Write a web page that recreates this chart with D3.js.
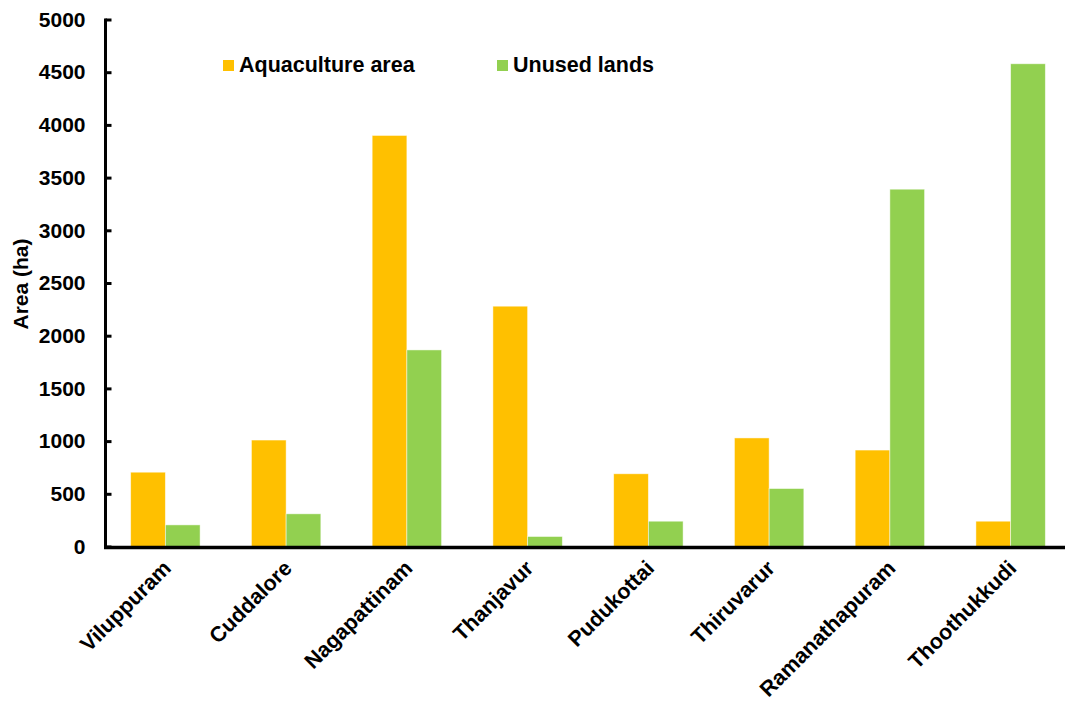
<!DOCTYPE html>
<html>
<head>
<meta charset="utf-8">
<script src="https://cdn.jsdelivr.net/npm/d3@7"></script>
<style>
  html, body { margin: 0; padding: 0; background: #fff; }
  svg { display: block; font-family: "Liberation Sans", Arial, sans-serif; }
</style>
</head>
<body>
<svg id="chart" width="1065" height="703"></svg>
<script>
// District-wise area (ha)
const districts = ["Viluppuram", "Cuddalore", "Nagapattinam", "Thanjavur",
                   "Pudukottai", "Thiruvarur", "Ramanathapuram", "Thoothukkudi"];
const aquacultureArea = [705, 1010, 3900, 2280, 690, 1030, 915, 240];
const unusedLands = [205, 310, 1865, 95, 240, 550, 3390, 4580];
const seriesNames = ["Aquaculture area", "Unused lands"];
const seriesColors = ["#FFC000", "#92D050"];
const yTicks = [0, 500, 1000, 1500, 2000, 2500, 3000, 3500, 4000, 4500, 5000];

const svg = d3.select("#chart");

const x0 = d3.scaleBand()
  .domain(districts)
  .range([105, 1071])
  .paddingInner(0.425)
  .paddingOuter(0.2125);

const x1 = d3.scaleBand()
  .domain(seriesNames)
  .range([0, x0.bandwidth()]);

const y = d3.scaleLinear()
  .domain([0, 5000])
  .range([546.5, 19.5]);

const color = d3.scaleOrdinal().domain(seriesNames).range(seriesColors);

const rows = districts.map((d, i) => ({
  district: d,
  values: [
    { key: seriesNames[0], value: aquacultureArea[i] },
    { key: seriesNames[1], value: unusedLands[i] }
  ]
}));

// Bars
svg.append("g")
  .selectAll("g")
  .data(rows)
  .join("g")
  .attr("transform", d => `translate(${x0(d.district)},0)`)
  .selectAll("rect")
  .data(d => d.values)
  .join("rect")
  .attr("x", d => x1(d.key))
  .attr("y", d => y(d.value))
  .attr("width", x1.bandwidth())
  .attr("height", d => y(0) - y(d.value))
  .attr("fill", d => color(d.key))
  .attr("stroke", "rgba(255,255,255,0.6)")
  .attr("stroke-width", 0.8);

// Y axis
const yAxis = svg.append("g")
  .attr("transform", "translate(105.5,0)")
  .call(d3.axisLeft(y).tickValues(yTicks).tickFormat(d3.format("d"))
    .tickSize(-6).tickPadding(20).tickSizeOuter(0));
yAxis.select(".domain").attr("stroke", "#000").attr("stroke-width", 3)
  .attr("d", `M0,${y(5000) - 1}V${y(0) + 2}`);
yAxis.selectAll(".tick line").attr("stroke", "#000").attr("stroke-width", 3);
yAxis.selectAll(".tick text")
  .attr("fill", "#000")
  .attr("font-size", 21)
  .attr("font-weight", "bold")
  .attr("font-family", "Liberation Sans, Arial, sans-serif");

// X axis
const xAxis = svg.append("g")
  .attr("transform", `translate(0,${y(0) + 1})`)
  .call(d3.axisBottom(x0).tickSize(0).tickPadding(0));
xAxis.select(".domain").attr("stroke", "#000").attr("stroke-width", 3.5)
  .attr("d", "M104,0H1065");
xAxis.selectAll(".tick text")
  .attr("fill", "#000")
  .attr("font-size", 21.5)
  .attr("font-weight", "bold")
  .attr("font-family", "Liberation Sans, Arial, sans-serif")
  .attr("text-anchor", "end")
  .attr("dy", null)
  .attr("y", 0)
  .attr("transform", "translate(7,22) rotate(-45)");

// Y axis title
svg.append("text")
  .attr("transform", "translate(27.5,284) rotate(-90)")
  .attr("text-anchor", "middle")
  .attr("font-size", 21)
  .attr("font-weight", "bold")
  .attr("fill", "#000")
  .text("Area (ha)");

// Legend
const legendX = [223, 497];
const legend = svg.append("g")
  .selectAll("g")
  .data(seriesNames)
  .join("g")
  .attr("transform", (d, i) => `translate(${legendX[i]},60)`);
legend.append("rect")
  .attr("width", 11)
  .attr("height", 11)
  .attr("fill", d => color(d));
legend.append("text")
  .attr("x", 16)
  .attr("y", 11.5)
  .attr("font-size", 21.5)
  .attr("font-weight", "bold")
  .attr("fill", "#000")
  .text(d => d);
</script>
</body>
</html>
